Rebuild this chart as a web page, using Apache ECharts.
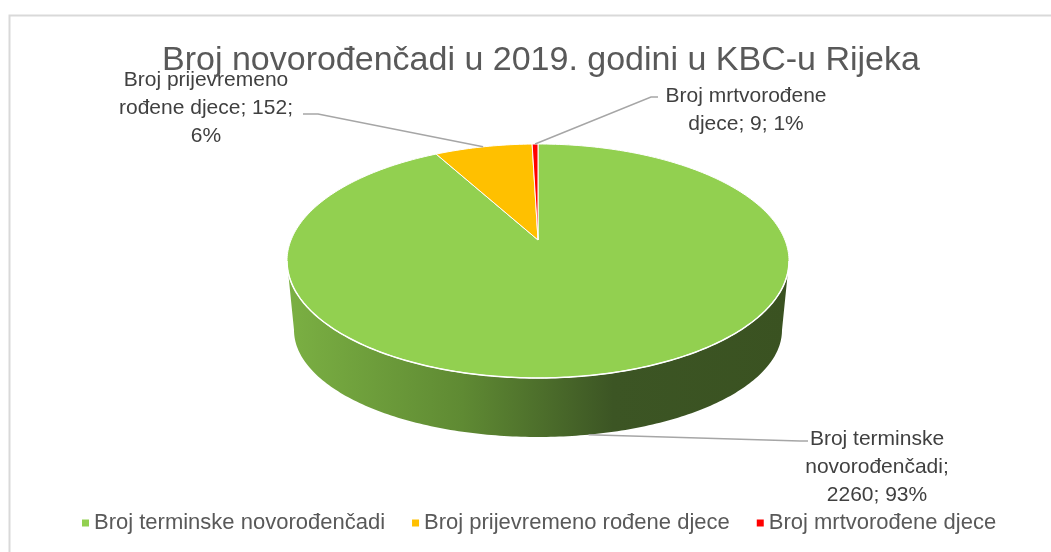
<!DOCTYPE html>
<html>
<head>
<meta charset="utf-8">
<script src="https://cdn.jsdelivr.net/npm/echarts@6/dist/echarts.min.js"></script>
<style>
  html, body { margin: 0; padding: 0; background: #fff; }
  #chart { width: 1051px; height: 552px; }
</style>
</head>
<body>
<div id="chart"></div>
<script>
// data
const titleText = 'Broj novorođenčadi u 2019. godini u KBC-u Rijeka';
const categories = ['Broj terminske novorođenčadi', 'Broj prijevremeno rođene djece', 'Broj mrtvorođene djece'];
const values = [2260, 152, 9];
const percents = ['93%', '6%', '1%'];
// label line breaks as shown in the chart
const labelLines = [
  ['Broj terminske', 'novorođenčadi;', '{v}; {p}'],
  ['Broj prijevremeno', 'rođene djece; {v};', '{p}'],
  ['Broj mrtvorođene', 'djece; {v}; {p}']
];
const colors = ['#92D050', '#FFC000', '#FF0000'];

const FONT = '"Liberation Sans", Arial, sans-serif';

// 3d pie geometry (top ellipse, bottom ellipse, apex shifted for perspective)
const geo = {
  cx: 538, cy: 261, rx: 251, ry: 117,
  bcx: 538, bcy: 330, brx: 244, bry: 107,
  apexY: 240
};
// label layout: text centre + leader end points
const labelLayout = [
  { x: 877, y: 467, elbow: [800, 441], end: [808, 441], ring: 'bottom' },
  { x: 206, y: 108, elbow: [318, 114], end: [303, 114], ring: 'top' },
  { x: 746, y: 110, elbow: [651, 97], end: [658, 97], ring: 'top' }
];

const total = values.reduce((a, b) => a + b, 0);
const starts = [];
let acc = 0;
values.forEach(v => { starts.push(acc / total * 360); acc += v; });

const rad = d => d * Math.PI / 180;
function topPt(deg) {
  return [geo.cx + geo.rx * Math.sin(rad(deg)), geo.cy - geo.ry * Math.cos(rad(deg))];
}
function botPt(deg) {
  return [geo.bcx + geo.brx * Math.sin(rad(deg)), geo.bcy - geo.bry * Math.cos(rad(deg))];
}
function arc(fn, a, b) {
  const pts = [];
  const n = Math.max(2, Math.ceil(Math.abs(b - a) / 1));
  for (let i = 0; i <= n; i++) pts.push(fn(a + (b - a) * i / n));
  return pts;
}

function sliceAngles(i, v) {
  const a = starts[i];
  return [a, a + v / total * 360];
}

// sides of the cylinder, only the part facing the viewer (90..270 deg)
function renderSide(params, api) {
  const i = params.dataIndex;
  const [a, b] = sliceAngles(i, api.value(0));
  const s = Math.max(a, 90), e = Math.min(b, 270);
  if (e <= s) return { type: 'group', children: [] };
  const pts = arc(topPt, s, e).concat(arc(botPt, e, s));
  return {
    type: 'polygon',
    shape: { points: pts },
    style: {
      fill: new echarts.graphic.LinearGradient(geo.cx - geo.rx, 0, geo.cx + geo.rx, 0, [
        { offset: 0, color: '#7bb043' },
        { offset: 0.35, color: '#5f8a33' },
        { offset: 0.65, color: '#3c5524' },
        { offset: 1, color: '#3a5221' }
      ], true),
      stroke: null
    }
  };
}

function renderTop(params, api) {
  const i = params.dataIndex;
  const v = api.value(0);
  const [a, b] = sliceAngles(i, v);
  const apex = [geo.cx, geo.apexY];
  const pts = [apex].concat(arc(topPt, a, b));
  const children = [{
    type: 'polygon',
    shape: { points: pts },
    style: { fill: colors[i], stroke: '#ffffff', lineWidth: 1 }
  }];
  // white rim along the visible front edge
  const s = Math.max(a, 90), e = Math.min(b, 270);
  if (e > s) {
    children.push({
      type: 'polyline',
      shape: { points: arc(topPt, s, e) },
      style: { fill: null, stroke: '#ffffff', lineWidth: 1.5 }
    });
  }
  // leader line + label
  const L = labelLayout[i];
  const mid = (a + b) / 2;
  const p0 = L.ring === 'bottom' ? botPt(mid) : topPt(mid);
  children.push({
    type: 'polyline',
    shape: { points: [p0, L.elbow, L.end] },
    style: { fill: null, stroke: '#a6a6a6', lineWidth: 1.5 }
  });
  const txt = labelLines[i].map(l => l.replace('{v}', v).replace('{p}', percents[i])).join('\n');
  children.push({
    type: 'text',
    style: {
      text: txt, x: L.x, y: L.y, align: 'center', verticalAlign: 'middle',
      font: '21px ' + FONT, fill: '#404040', lineHeight: 28
    }
  });
  return { type: 'group', children: children };
}

const chart = echarts.init(document.getElementById('chart'), null, { renderer: 'canvas' });
chart.setOption({
  animation: false,
  backgroundColor: '#ffffff',
  color: colors,
  title: {
    text: titleText,
    left: 157,
    top: 39,
    textStyle: { fontFamily: FONT, fontSize: 34, fontWeight: 'normal', color: '#595959' }
  },
  legend: {
    data: categories,
    bottom: 13,
    left: 77,
    icon: 'rect',
    itemWidth: 7,
    itemHeight: 7,
    itemGap: 27,
    textStyle: { fontFamily: FONT, fontSize: 22, color: '#595959' }
  },
  graphic: [{
    type: 'rect',
    shape: { x: 9.5, y: 15.5, width: 1100, height: 600 },
    style: { fill: null, stroke: '#d9d9d9', lineWidth: 2 },
    silent: true
  }],
  series: [
    {
      // carries the legend entries only
      type: 'pie',
      radius: [0, 0],
      silent: true,
      label: { show: false },
      labelLine: { show: false },
      data: categories.map((c, i) => ({ name: c, value: values[i] }))
    },
    {
      type: 'custom',
      coordinateSystem: 'none',
      renderItem: renderSide,
      data: values.map(v => [v]),
      silent: true
    },
    {
      type: 'custom',
      coordinateSystem: 'none',
      renderItem: renderTop,
      data: values.map(v => [v]),
      silent: true
    }
  ]
});
</script>
</body>
</html>
